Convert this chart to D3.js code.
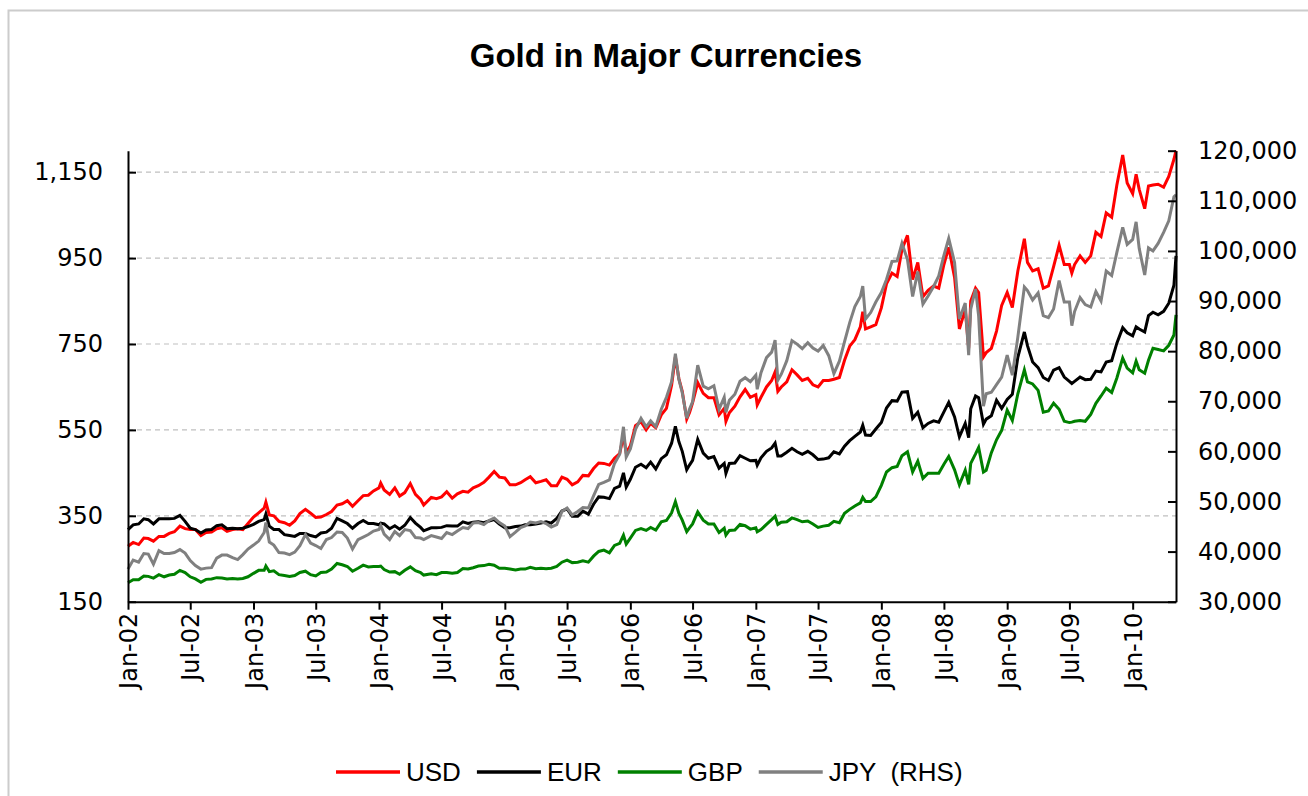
<!DOCTYPE html>
<html>
<head>
<meta charset="utf-8">
<script src="https://cdn.jsdelivr.net/npm/d3@7"></script>
<style>
  body { margin: 0; background: #fff; }
</style>
</head>
<body>
<div id="chart"></div>
<script>
// semi-monthly readings, plus a few turning points
let dates = [
    '2002-01-01', '2002-01-16', '2002-02-01', '2002-02-16', '2002-03-01', '2002-03-16', '2002-04-01', '2002-04-16',
    '2002-05-01', '2002-05-16', '2002-06-01', '2002-06-16', '2002-07-01', '2002-07-16', '2002-08-01', '2002-08-16',
    '2002-09-01', '2002-09-16', '2002-10-01', '2002-10-16', '2002-11-01', '2002-11-16', '2002-12-01', '2002-12-16',
    '2003-01-01', '2003-01-16', '2003-02-01', '2003-02-06', '2003-02-16', '2003-03-01', '2003-03-16', '2003-04-01',
    '2003-04-16', '2003-05-01', '2003-05-16', '2003-06-01', '2003-06-16', '2003-07-01', '2003-07-16', '2003-08-01',
    '2003-08-16', '2003-09-01', '2003-09-16', '2003-10-01', '2003-10-16', '2003-11-01', '2003-11-16', '2003-12-01',
    '2003-12-16',
    '2004-01-01', '2004-01-06', '2004-01-16', '2004-02-01', '2004-02-16', '2004-03-01', '2004-03-16', '2004-04-01',
    '2004-04-16', '2004-05-01', '2004-05-10', '2004-06-01', '2004-06-16', '2004-07-01', '2004-07-16', '2004-08-01',
    '2004-08-16', '2004-09-01', '2004-09-16', '2004-10-01', '2004-10-16', '2004-11-01', '2004-11-16', '2004-12-01',
    '2004-12-16',
    '2005-01-01', '2005-01-16', '2005-02-01', '2005-02-16', '2005-03-01', '2005-03-16', '2005-04-01', '2005-04-16',
    '2005-05-01', '2005-05-16', '2005-06-01', '2005-06-16', '2005-07-01', '2005-07-16', '2005-08-01', '2005-08-16',
    '2005-09-01', '2005-09-16', '2005-10-01', '2005-10-16', '2005-11-01', '2005-11-16', '2005-12-01', '2005-12-12',
    '2005-12-20',
    '2006-01-01', '2006-01-16', '2006-02-01', '2006-02-16', '2006-03-01', '2006-03-16', '2006-04-01', '2006-04-16',
    '2006-05-01', '2006-05-12', '2006-05-22', '2006-06-01', '2006-06-14', '2006-06-22', '2006-07-01', '2006-07-16',
    '2006-08-01', '2006-08-16', '2006-09-01', '2006-09-16', '2006-10-01', '2006-10-06', '2006-10-16', '2006-11-01',
    '2006-11-16', '2006-12-01', '2006-12-16',
    '2007-01-01', '2007-01-05', '2007-01-16', '2007-02-01', '2007-02-16', '2007-02-26', '2007-03-06', '2007-03-16',
    '2007-04-01', '2007-04-16', '2007-05-01', '2007-05-16', '2007-06-01', '2007-06-16', '2007-07-01', '2007-07-16',
    '2007-08-01', '2007-08-16', '2007-09-01', '2007-09-16', '2007-10-01', '2007-10-16', '2007-11-01', '2007-11-08',
    '2007-11-16', '2007-12-01', '2007-12-16',
    '2008-01-01', '2008-01-16', '2008-02-01', '2008-02-16', '2008-03-01', '2008-03-17', '2008-04-01', '2008-04-16',
    '2008-05-01', '2008-05-16', '2008-06-01', '2008-06-16', '2008-07-01', '2008-07-15', '2008-08-01', '2008-08-15',
    '2008-09-01', '2008-09-11', '2008-09-17', '2008-10-01', '2008-10-10', '2008-10-24', '2008-11-01', '2008-11-16',
    '2008-12-01', '2008-12-16',
    '2009-01-01', '2009-01-16', '2009-02-01', '2009-02-20', '2009-03-01', '2009-03-16', '2009-04-01', '2009-04-16',
    '2009-05-01', '2009-05-16', '2009-06-01', '2009-06-16', '2009-07-01', '2009-07-08', '2009-07-16', '2009-08-01',
    '2009-08-16', '2009-09-01', '2009-09-16', '2009-10-01', '2009-10-16', '2009-11-01', '2009-11-16', '2009-12-03',
    '2009-12-16',
    '2010-01-01', '2010-01-11', '2010-01-20', '2010-02-05', '2010-02-16', '2010-03-01', '2010-03-16', '2010-04-01',
    '2010-04-16', '2010-05-01', '2010-05-07'
];

let usd = [
    279, 288, 283, 298, 297, 291, 302, 302, 309, 313, 326, 320, 318, 318, 304, 311, 312, 320, 322, 314, 318, 320, 318, 332,
    347, 357, 368, 382, 352, 350, 337, 334, 328, 338, 355, 365, 356, 346, 347, 353, 360, 375, 378, 385, 372, 385, 397, 398, 408,
    415, 426, 410, 400, 415, 396, 404, 425, 400, 388, 375, 393, 390, 394, 406, 391, 401, 407, 405, 415, 420, 428, 440, 453, 440,
    438, 422, 422, 427, 434, 441, 427, 430, 434, 420, 420, 440, 435, 422, 429, 444, 443, 460, 473, 472, 468, 484, 495, 536, 497,
    513, 560, 569, 550, 565, 555, 585, 600, 654, 720, 670, 640, 575, 590, 613, 660, 635, 625, 625, 585, 600, 570, 590, 605, 627, 644, 626,
    632, 608, 626, 650, 665, 685, 640, 650, 662, 690, 678, 665, 670, 655, 650, 665, 665, 668, 672, 712, 745, 760, 790, 825, 785, 790, 795,
    834, 890, 915, 907, 970, 1003, 900, 940, 860, 875, 885, 880, 935, 975, 905, 785, 830, 740, 850, 880, 870, 720, 730, 740, 780, 840,
    870, 835, 920, 995, 940, 920, 925, 880, 885, 930, 980, 935, 935, 915, 935, 955, 940, 955, 1010, 1000, 1055, 1045, 1120, 1190, 1125,
    1100, 1145, 1110, 1065, 1118, 1120, 1122, 1115, 1140, 1180, 1200
];

let eur = [
    318, 329, 331, 343, 341, 331, 343, 343, 343, 344, 351, 337, 321, 318, 310, 317, 318, 327, 329, 320, 321, 320, 321, 325,
    330, 337, 341, 354, 326, 318, 318, 306, 304, 302, 309, 309, 304, 301, 310, 312, 321, 344, 338, 332, 321, 332, 339, 332, 332,
    329, 333, 331, 320, 327, 319, 328, 346, 333, 323, 315, 322, 322, 323, 327, 326, 326, 336, 332, 335, 336, 334, 338, 341, 331,
    322, 322, 325, 326, 329, 329, 331, 333, 336, 333, 344, 361, 366, 349, 349, 361, 354, 377, 394, 393, 390, 414, 419, 450, 417,
    435, 463, 470, 462, 475, 459, 483, 492, 519, 558, 523, 500, 457, 468, 479, 528, 496, 484, 488, 461, 472, 449, 472, 473, 490, 484, 478,
    479, 468, 485, 500, 508, 519, 489, 489, 498, 507, 499, 493, 500, 492, 481, 482, 485, 499, 494, 512, 525, 535, 545, 561, 538, 537, 552,
    567, 601, 618, 617, 638, 639, 577, 591, 555, 565, 571, 568, 592, 614, 580, 534, 565, 532, 599, 629, 625, 563, 575, 583, 619, 600,
    621, 633, 719, 778, 746, 708, 695, 672, 665, 689, 695, 673, 663, 658, 663, 673, 667, 668, 687, 685, 708, 711, 752, 788, 776,
    769, 790, 785, 778, 816, 824, 818, 826, 845, 887, 955
];

let gbp = [
    194, 201, 201, 210, 209, 205, 213, 208, 212, 214, 223, 218, 208, 203, 195, 202, 203, 206, 205, 203, 204, 203, 204, 208,
    216, 223, 223, 233, 220, 222, 213, 211, 209, 211, 218, 221, 213, 210, 218, 219, 226, 239, 236, 232, 221, 228, 235, 231, 232,
    232, 233, 225, 219, 220, 214, 223, 231, 222, 218, 212, 215, 213, 218, 218, 216, 218, 227, 226, 229, 233, 234, 237, 235, 228,
    228, 226, 224, 226, 226, 230, 227, 228, 227, 228, 232, 242, 247, 241, 242, 245, 242, 256, 267, 270, 264, 281, 286, 305, 284,
    298, 316, 320, 316, 323, 317, 336, 339, 357, 383, 356, 340, 313, 322, 331, 359, 340, 331, 331, 311, 321, 305, 316, 317, 330, 327, 319,
    322, 313, 318, 330, 341, 349, 330, 335, 336, 345, 341, 336, 338, 331, 323, 326, 328, 337, 334, 356, 365, 373, 380, 393, 383, 383, 394,
    421, 452, 462, 465, 490, 499, 452, 477, 437, 449, 449, 449, 470, 488, 457, 422, 456, 423, 472, 494, 509, 452, 456, 497, 527, 549,
    596, 572, 634, 690, 662, 657, 642, 591, 594, 612, 598, 570, 567, 568, 570, 572, 570, 586, 612, 629, 647, 637, 671, 717, 694,
    683, 710, 690, 682, 712, 740, 737, 734, 747, 771, 818
];

let jpy = [
    36500, 38300, 37900, 39600, 39500, 37500, 40200, 39600, 39600, 39800, 40400, 39700, 38200, 37200, 36500, 36700,
    36800, 38700, 39300, 39300, 38800, 38400, 39400, 40500,
    41300, 42100, 43800, 45800, 41900, 41300, 39800, 39700, 39400, 39900, 41200, 43400, 41700, 41200, 40600, 42400,
    42800, 43900, 43800, 42700, 40500, 42400, 42900, 43400, 44100,
    44400, 45200, 43500, 42400, 44000, 43200, 44400, 44200, 42800, 42700, 42400, 43200, 42900, 42600, 43800, 43400,
    44100, 44800, 44600, 45700, 45800, 45400, 46200, 46700, 45800,
    45100, 43000, 43900, 44800, 45100, 45900, 45700, 46000, 45600, 44900, 45400, 48000, 48700, 47300, 48000, 48800,
    48700, 51100, 53400, 53800, 54300, 57600, 59400, 64900, 58900,
    60500, 64400, 66600, 64900, 66100, 64900, 68400, 70800, 73900, 79500, 74400, 71700, 66600, 68400, 69900, 77200,
    73000, 72500, 73100, 68400, 70800, 67800, 70200, 71400, 74000, 74700, 73900,
    75200, 72400, 75700, 78700, 79800, 82200, 74200, 75400, 78100, 82100, 81400, 80500, 81700, 80600, 80000, 81100,
    79100, 75500, 78000, 81900, 85700, 88900, 90900, 93000, 86400, 87700, 89800,
    91700, 94300, 97900, 98000, 101500, 98300, 90900, 95900, 89400, 91000, 92900, 95000, 99100, 102500, 97700, 86400,
    89600, 79200, 88400, 92400, 87000, 69000, 71500, 71800, 73300, 74800,
    79200, 75200, 82800, 92800, 92100, 90200, 91600, 87100, 86700, 88400, 94100, 89800, 89800, 85100, 87900, 90700,
    89300, 88800, 91900, 90000, 96000, 95100, 99700, 104700, 101300,
    102300, 105800, 100500, 95200, 100600, 100000, 101500, 103700, 106000, 110800, 111200
];

let names = ['USD', 'EUR', 'GBP', 'JPY  (RHS)'];
let colors = ['#ff0000', '#000000', '#008000', '#808080'];
let leftTicks = [150, 350, 550, 750, 950, 1150];
let rightTicks = [30000, 40000, 50000, 60000, 70000, 80000, 90000, 100000, 110000, 120000];

let width = 1308;
let height = 796;
let plot = { left: 128, right: 1176, top: 150.7, bottom: 601.7 };

let parse = d3.timeParse('%Y-%m-%d');
let days = dates.map(parse);

let svg = d3.select('#chart')
    .append('svg')
    .attr('width', width)
    .attr('height', height)
    .style('font-family', 'Liberation Sans, Arial, sans-serif');

// outer frame of the chart object
svg.append('rect')
    .attr('x', 8.5).attr('y', 10.5)
    .attr('width', 1320).attr('height', 820)
    .attr('fill', 'none')
    .attr('stroke', '#cccccc')
    .attr('stroke-width', 2);

let x = d3.scaleTime()
    .domain([parse('2002-01-01'), parse('2010-05-07')])
    .range([plot.left, plot.right]);
let yLeft = d3.scaleLinear().domain([150, 1200]).range([plot.bottom, plot.top]);
let yRight = d3.scaleLinear().domain([30000, 120000]).range([plot.bottom, plot.top]);

svg.append('text')
    .attr('x', 666)
    .attr('y', 67)
    .attr('text-anchor', 'middle')
    .style('font-size', '33px')
    .style('font-weight', 'bold')
    .text('Gold in Major Currencies');

// dashed gridlines on the left scale
svg.append('g')
    .selectAll('line')
    .data(leftTicks.slice(1))
    .enter()
    .append('line')
    .attr('x1', plot.left)
    .attr('x2', plot.right)
    .attr('y1', function (d) { return yLeft(d); })
    .attr('y2', function (d) { return yLeft(d); })
    .attr('stroke', '#c0c0c0')
    .attr('stroke-width', 1.2)
    .attr('stroke-dasharray', '5,4');

let series = [
    { name: names[0], values: usd, color: colors[0], scale: yLeft },
    { name: names[1], values: eur, color: colors[1], scale: yLeft },
    { name: names[2], values: gbp, color: colors[2], scale: yLeft },
    { name: names[3], values: jpy, color: colors[3], scale: yRight }
];

series.forEach(function (s) {
    let pts = s.values.map(function (v, i) { return { date: days[i], v: v }; });
    let line = d3.line()
        .x(function (d) { return x(d.date); })
        .y(function (d) { return s.scale(d.v); });
    svg.append('path')
        .datum(pts)
        .attr('d', line)
        .attr('fill', 'none')
        .attr('stroke', s.color)
        .attr('stroke-width', 3);
});

function styleAxis(g) {
    g.selectAll('path').attr('stroke', '#000').attr('stroke-width', 2);
    g.selectAll('line').attr('stroke', '#000').attr('stroke-width', 2);
    g.selectAll('text')
        .attr('fill', '#000')
        .style('font-family', 'DejaVu Sans, sans-serif')
        .style('font-size', '24px');
}

let leftAxis = svg.append('g')
    .attr('transform', 'translate(' + plot.left + ',0)')
    .call(d3.axisLeft(yLeft)
        .tickValues(leftTicks)
        .tickFormat(d3.format(','))
        .tickSizeInner(-8)
        .tickSizeOuter(0)
        .tickPadding(25));
styleAxis(leftAxis);

let rightAxis = svg.append('g')
    .attr('transform', 'translate(' + plot.right + ',0)')
    .call(d3.axisRight(yRight)
        .tickValues(rightTicks)
        .tickFormat(d3.format(','))
        .tickSizeInner(-8)
        .tickSizeOuter(0)
        .tickPadding(22));
styleAxis(rightAxis);

let bottomAxis = svg.append('g')
    .attr('transform', 'translate(0,' + plot.bottom + ')')
    .call(d3.axisBottom(x)
        .ticks(d3.timeMonth.every(6))
        .tickFormat(d3.timeFormat('%b-%y'))
        .tickSizeInner(8)
        .tickSizeOuter(0));
styleAxis(bottomAxis);
bottomAxis.selectAll('text')
    .attr('transform', 'rotate(-90)')
    .attr('x', -11)
    .attr('y', 0)
    .attr('dy', '0.36em')
    .style('text-anchor', 'end');

// legend, laid out left to right
let legend = svg.append('g').attr('transform', 'translate(336,772)');
let lx = 0;
series.forEach(function (s) {
    legend.append('line')
        .attr('x1', lx).attr('x2', lx + 64)
        .attr('y1', 0).attr('y2', 0)
        .attr('stroke', s.color)
        .attr('stroke-width', 3.5);
    let t = legend.append('text')
        .attr('x', lx + 70)
        .attr('y', 9)
        .style('font-size', '26px')
        .style('white-space', 'pre')
        .attr('fill', '#000')
        .text(s.name);
    lx += 70 + t.node().getComputedTextLength() + 16;
});
</script>
</body>
</html>
